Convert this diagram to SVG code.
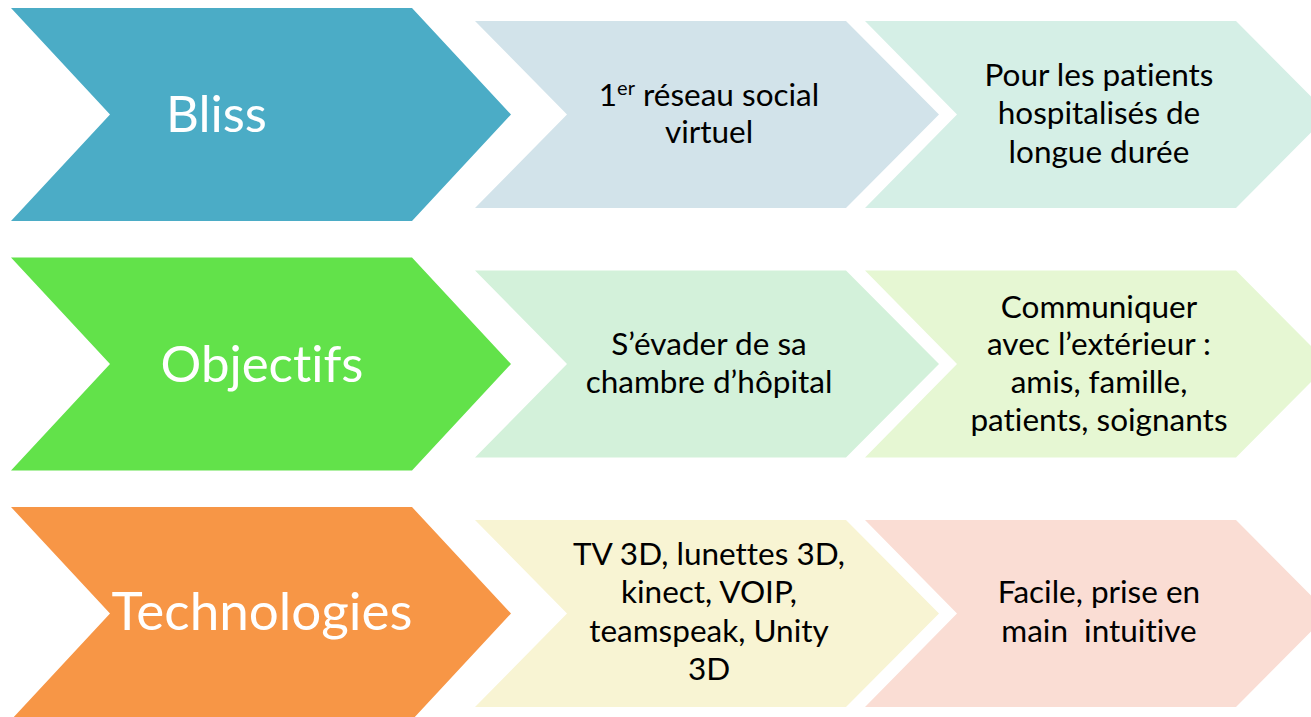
<svg xmlns="http://www.w3.org/2000/svg" width="1311" height="717" viewBox="0 0 1311 717">
<style>
text{font-variant-ligatures:none;font-feature-settings:"liga" 0,"clig" 0,"dlig" 0;}
.big{font-family:Lato,"Liberation Sans",sans-serif;font-size:51px;fill:#ffffff;}
.sm{font-family:Lato,"Liberation Sans",sans-serif;font-size:31.5px;fill:#000000;text-anchor:middle;}
.sup{font-size:20px;}
</style>
<defs>
<polygon id="bigchev" points="11,8 412,8 511,114.5 412,221 11,221 110,114.5"/>
<polygon id="chev2" points="475,21 846,21 939,114.5 846,208 475,208 567,114.5"/>
<polygon id="chev3" points="865,21 1236,21 1329,114.5 1236,208 865,208 957,114.5"/>
</defs>
<rect width="1311" height="717" fill="#ffffff"/>
<g id="row-bliss">
<g id="bliss"><use href="#bigchev" fill="#4BACC6"/><text class="big" x="166" y="132">Bliss</text></g>
<g id="reseau"><use href="#chev2" fill="#D2E3EA"/>
<text class="sm" x="709" y="106">1<tspan class="sup" dy="-11">er</tspan><tspan dy="11"> réseau social</tspan></text>
<text class="sm" x="709" y="143">virtuel</text></g>
<g id="patients"><use href="#chev3" fill="#D5EFE6"/>
<text class="sm" x="1099" y="86">Pour les patients</text>
<text class="sm" x="1099" y="124">hospitalisés de</text>
<text class="sm" x="1099" y="163">longue durée</text></g>
</g>
<g id="row-objectifs" transform="translate(0,249.5)">
<g id="objectifs"><use href="#bigchev" fill="#62E24A"/><text class="big" x="262" y="132.5" text-anchor="middle">Objectifs</text></g>
<g id="evader"><use href="#chev2" fill="#D3F1DA"/>
<text class="sm" x="709" y="105.5">S’évader de sa</text>
<text class="sm" x="709" y="143.5">chambre d’hôpital</text></g>
<g id="communiquer"><use href="#chev3" fill="#E6F7D3"/>
<text class="sm" x="1099" y="68.5">Communiquer</text>
<text class="sm" x="1099" y="105.5">avec l’extérieur :</text>
<text class="sm" x="1099" y="143.5">amis, famille,</text>
<text class="sm" x="1099" y="181.5">patients, soignants</text></g>
</g>
<g id="row-technologies" transform="translate(0,499)">
<g id="technologies"><use href="#bigchev" fill="#F79646"/><text class="big" x="262" y="131" text-anchor="middle" style="font-size:53px">Technologies</text></g>
<g id="tech-list"><use href="#chev2" fill="#F8F4D3"/>
<text class="sm" x="709" y="66">TV 3D, lunettes 3D,</text>
<text class="sm" x="709" y="104">kinect, VOIP,</text>
<text class="sm" x="709" y="143">teamspeak, Unity</text>
<text class="sm" x="709" y="181">3D</text></g>
<g id="facile"><use href="#chev3" fill="#FADDD4"/>
<text class="sm" x="1099" y="104" xml:space="preserve">Facile, prise en</text>
<text class="sm" x="1099" y="143" xml:space="preserve">main  intuitive</text></g>
</g>
<g id="connectors"/>
</svg>
